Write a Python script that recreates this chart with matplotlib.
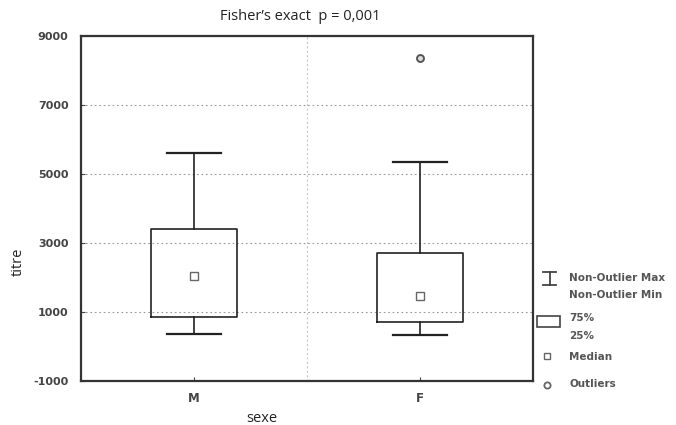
import matplotlib
matplotlib.use("Agg")
import matplotlib.pyplot as plt
from matplotlib.lines import Line2D
from matplotlib.patches import Rectangle

categories = ["M", "F"]
whisker_low = [350, 330]
q1 = [850, 700]
median = [2050, 1450]
q3 = [3400, 2700]
whisker_high = [5600, 5350]
outliers = [[], [8350]]
yticks = [-1000, 1000, 3000, 5000, 7000, 9000]

fig = plt.figure(figsize=(6.76, 4.25), dpi=100)
ax = fig.add_axes([81/676, 1-381/425, (533-81)/676, (381-36)/425])

stats = []
for i, c in enumerate(categories):
    stats.append(dict(label=c, whislo=whisker_low[i], q1=q1[i], med=median[i],
                      q3=q3[i], whishi=whisker_high[i], fliers=outliers[i]))

ax.bxp(stats, positions=[0, 1], widths=0.38, showcaps=True, showfliers=True,
       boxprops=dict(color="#222222", lw=1.2),
       whiskerprops=dict(color="#222222", lw=1.2),
       capprops=dict(color="#222222", lw=1.6),
       medianprops=dict(lw=0),
       flierprops=dict(marker="o", markersize=5, markerfacecolor="#dddddd",
                       markeredgecolor="#555555", markeredgewidth=1.4),
       capwidths=0.24)
ax.plot([0, 1], median, ls="none", marker="s", markersize=6,
        markerfacecolor="white", markeredgecolor="#666666", markeredgewidth=1.0)

ax.set_xlim(-0.5, 1.5)
ax.set_ylim(-1000, 9000)
ax.set_yticks(yticks)
ax.set_yticklabels([str(t) for t in yticks], fontsize=8, fontweight="bold", color="#444444")
ax.set_xticks([0, 1])
ax.set_xticklabels(categories, fontsize=8.5, fontweight="bold", color="#444444")
ax.tick_params(axis="y", direction="in", length=3, color="#444444", pad=9)
ax.tick_params(axis="x", direction="in", length=3, color="#444444", pad=8)
ax.grid(True, axis="y", ls=(0, (1.5, 2.5)), color="#999999", lw=0.8)
ax.axvline(0.5, ls=(0, (1.5, 2.5)), color="#bbbbbb", lw=0.8)
for s in ax.spines.values():
    s.set_color("#333333")
    s.set_linewidth(1.6)

fig.text(300/676, 1-17/425, "Fisher\u2019s exact  p = 0,001", ha="center", va="center",
         fontsize=10.5, family="Open Sans", color="#222222")
fig.text(18/676, 1-262/425, "titre", rotation=90, ha="center", va="center",
         fontsize=10.5, family="Open Sans", color="#222222")
fig.text(262/676, 1-419/425, "sexe", ha="center", va="center",
         fontsize=10.5, family="Open Sans", color="#222222")

# legend
def fx(x): return x/676
def fy(y): return 1 - y/425
lc = "#444444"
fig.add_artist(Line2D([fx(543), fx(556)], [fy(272), fy(272)], color=lc, lw=1.3))
fig.add_artist(Line2D([fx(543), fx(556)], [fy(285), fy(285)], color=lc, lw=1.3))
fig.add_artist(Line2D([fx(549.5), fx(549.5)], [fy(272), fy(285)], color=lc, lw=1.3))
fig.add_artist(Rectangle((fx(537), fy(327)), fx(560)-fx(537), fy(316)-fy(327),
                         fill=False, ec=lc, lw=1.2))
fig.add_artist(Line2D([fx(547)], [fy(356)], marker="s", markersize=4, ls="none",
                      markerfacecolor="white", markeredgecolor="#666666"))
fig.add_artist(Line2D([fx(547)], [fy(385)], marker="o", markersize=4.5, ls="none",
                      markerfacecolor="white", markeredgecolor="#666666", markeredgewidth=1.3))
tkw = dict(fontsize=7.5, fontweight="bold", color="#555555", va="center", ha="left")
fig.text(fx(569), fy(278), "Non-Outlier Max", **tkw)
fig.text(fx(569), fy(295), "Non-Outlier Min", **tkw)
fig.text(fx(569), fy(318), "75%", **tkw)
fig.text(fx(569), fy(336), "25%", **tkw)
fig.text(fx(569), fy(357), "Median", **tkw)
fig.text(fx(569), fy(384), "Outliers", **tkw)

fig.savefig("out.png", dpi=100)
